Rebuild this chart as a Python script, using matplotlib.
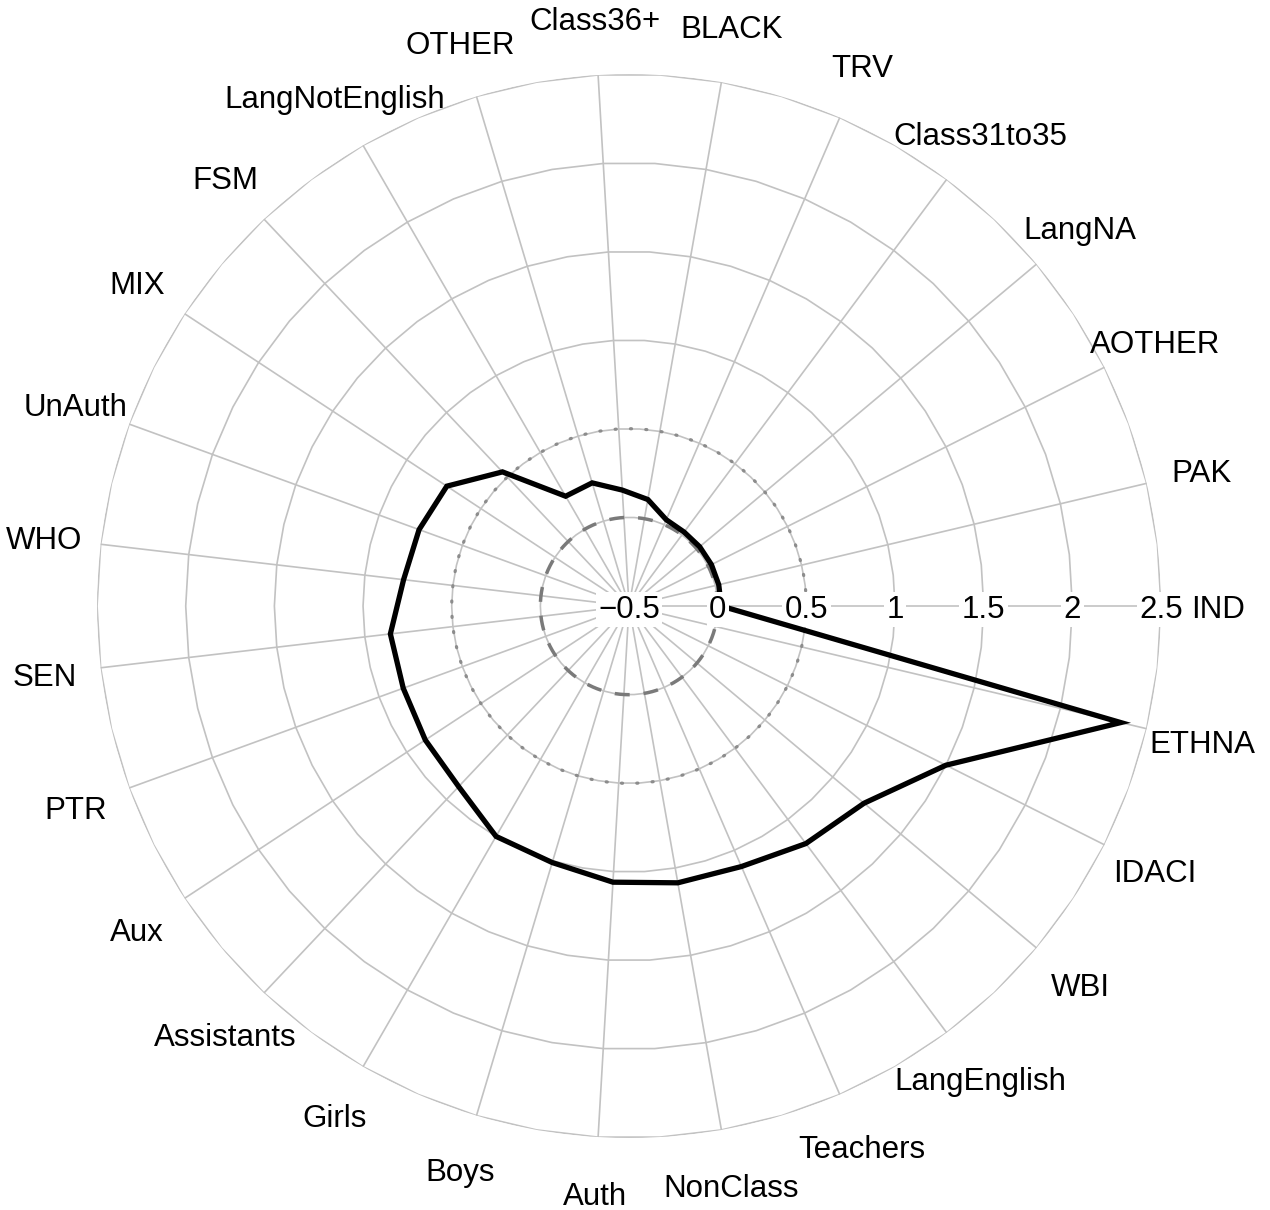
"""Radar profile of school-level coefficients across 27 indicators."""
import numpy as np
import matplotlib
matplotlib.use("Agg")
import matplotlib.pyplot as plt

plt.rcParams["font.family"] = ["Liberation Sans", "DejaVu Sans"]

# indicators, counter-clockwise from the right-hand axis
categories = ["IND", "PAK", "AOTHER", "LangNA", "Class31to35", "TRV", "BLACK",
              "Class36+", "OTHER", "LangNotEnglish", "FSM", "MIX", "UnAuth",
              "WHO", "SEN", "PTR", "Aux", "Assistants", "Girls", "Boys", "Auth",
              "NonClass", "Teachers", "LangEnglish", "WBI", "IDACI", "ETHNA"]
values = [0.02, 0.02, 0.02, 0.02, 0.02, 0.03, 0.11, 0.155, 0.225, 0.215,
          0.54, 0.73, 0.76, 0.78, 0.855, 0.855, 0.875, 0.90, 1.0, 1.01, 1.06,
          1.085, 1.10, 1.17, 1.23, 1.50, 2.35]

grid_min, grid_max = -0.5, 2.5
grid_values = [0, 0.5, 1, 1.5, 2, 2.5]
tick_values = [-0.5, 0, 0.5, 1, 1.5, 2, 2.5]
tick_labels = ["\u22120.5", "0", "0.5", "1", "1.5", "2", "2.5"]

LIGHT = "#C2C2C2"
label_r = 2.82

n = len(categories)
theta = np.arange(n) * 2 * np.pi / n

fig = plt.figure(figsize=(12.7, 12.1), dpi=100)
ax = fig.add_axes([0.0764, 0.0595, 0.8378, 0.8793], projection="polar")
ax.set_rlim(grid_min, grid_max)
ax.set_axis_off()

# spokes
for t in theta:
    ax.plot([t, t], [grid_min, grid_max], color=LIGHT, lw=1.2, zorder=1)

# concentric rings drawn as fine polygons
ring_t = np.linspace(0, 2 * np.pi, 2 * n + 1)
for g in grid_values:
    ax.plot(ring_t, np.full_like(ring_t, g), color=LIGHT, lw=1.2, zorder=1)

# zero line dashed, mid line dotted
circ = np.linspace(0, 2 * np.pi, 361)
ax.plot(circ, np.full_like(circ, 0.0), color="#7A7A7A", lw=2.5,
        linestyle=(0, (4.3, 4.0)), dash_capstyle="butt", zorder=2)
ax.plot(circ, np.full_like(circ, 0.5), color="#8C8C8C", lw=2.3,
        linestyle=(0, (0.35, 4.45)), dash_capstyle="round", zorder=2)

# data polygon
t_closed = np.append(theta, theta[0])
v_closed = np.append(values, values[0])
ax.plot(t_closed, v_closed, color="black", lw=3.8, zorder=3,
        solid_joinstyle="miter")

# radial scale labels along the first axis; the inner two sit over the line
for v, s in zip(tick_values, tick_labels):
    z = 5 if v <= 0 else 2.5
    ax.annotate(s, (0, v), xytext=(0, -2.5), textcoords="offset points",
                ha="center", va="center", fontsize=22.5, zorder=z,
                bbox=dict(boxstyle="square,pad=0.08", fc="white", ec="none"))

# category labels
for t, c in zip(theta, categories):
    ax.annotate(c, (t, label_r), xytext=(0, -2.5), textcoords="offset points",
                ha="center", va="center", fontsize=22.5,
                annotation_clip=False, zorder=5)

fig.savefig("out.png", dpi=100)
